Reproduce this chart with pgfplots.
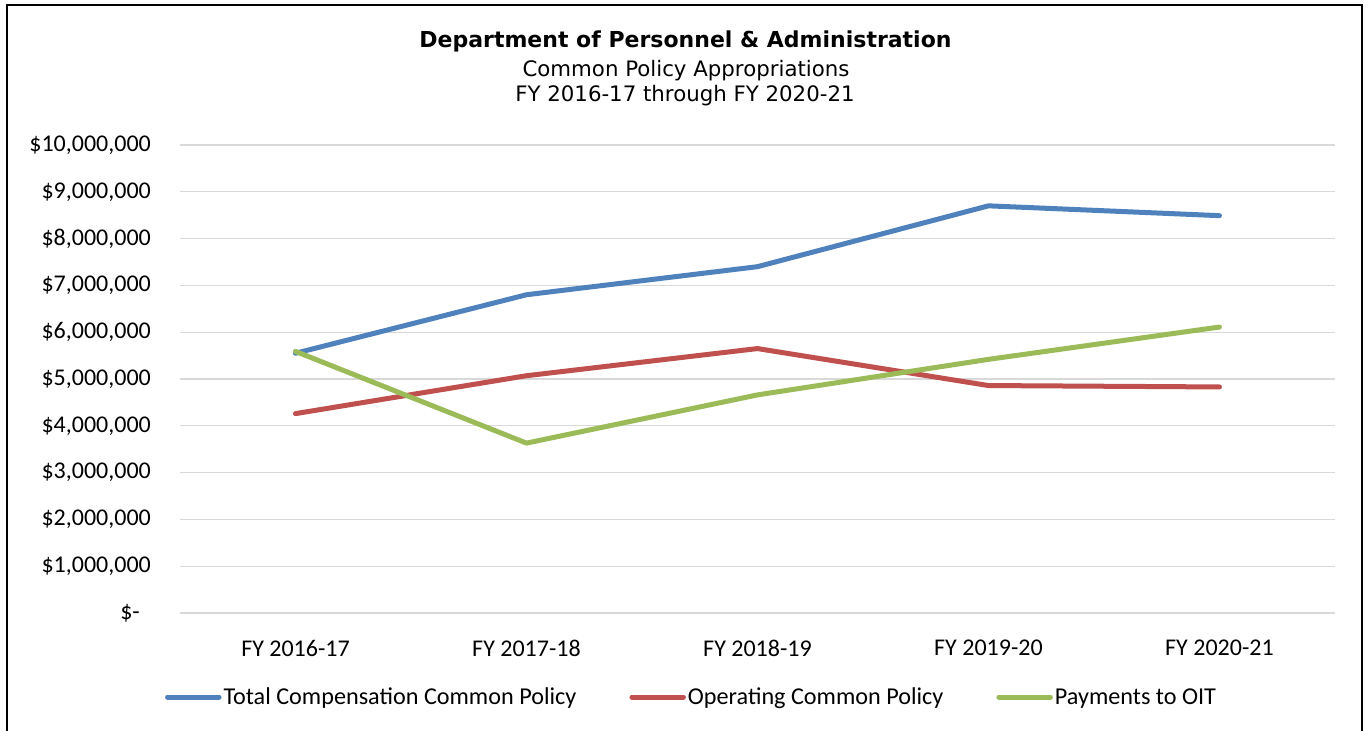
\documentclass[border=0pt]{standalone}
\usepackage{pgfplots}
\pgfplotsset{compat=1.18}
\usepackage{fontspec}
\setmainfont{Carlito}
\newfontfamily\titlefont{DejaVu Sans}
\definecolor{cblue}{HTML}{4F81BD}
\definecolor{cred}{HTML}{C0504D}
\definecolor{cgreen}{HTML}{9BBB59}
\definecolor{cgrid}{HTML}{D9D9D9}
\begin{document}
\begin{tikzpicture}[x=1pt,y=1pt]
\useasboundingbox (0,0) rectangle (1366,731);
\draw[line width=2pt] (7,726) rectangle (1362,-20);
\node[anchor=base, inner sep=0pt, font=\titlefont\bfseries\fontsize{22}{26}\selectfont] at (685.5,683) {Department of Personnel \& Administration};
\node[anchor=base, inner sep=0pt, font=\titlefont\fontsize{21.3}{25}\selectfont] at (686,654) {Common Policy Appropriations};
\node[anchor=base, inner sep=0pt, font=\titlefont\fontsize{21.3}{25}\selectfont] at (685,629) {FY 2016-17 through FY 2020-21};
\begin{axis}[
  at={(180pt,118pt)}, anchor=south west,
  scale only axis, width=1155pt, height=468pt,
  xmin=-0.5, xmax=4.5, ymin=0, ymax=10000000,
  axis line style={draw=none},
  major tick length=0pt,
  xtick={0,1,2,3,4},
  xticklabels={FY 2016-17,FY 2017-18,FY 2018-19,FY 2019-20,FY 2020-21},
  ytick={0,1000000,2000000,3000000,4000000,5000000,6000000,7000000,8000000,9000000,10000000},
  yticklabels={{\$-\rule{11pt}{0pt}},{\$1,000,000},{\$2,000,000},{\$3,000,000},{\$4,000,000},{\$5,000,000},{\$6,000,000},{\$7,000,000},{\$8,000,000},{\$9,000,000},{\$10,000,000}},
  scaled y ticks=false,
  ymajorgrids,
  major grid style={cgrid, line width=1.3pt},
  yticklabel style={anchor=east, inner sep=0pt, xshift=-29pt, font=\fontsize{24}{28}\selectfont},
  xticklabel style={anchor=north, inner sep=0pt, yshift=-27pt, font=\fontsize{24}{28}\selectfont},
  legend columns=3,
  legend style={at={(0.442,-0.1795)}, anchor=center, draw=none, fill=none,
    font=\fontsize{24.2}{28}\selectfont, inner sep=0pt,
    nodes={inner sep=0pt, anchor=west},
    column sep=2pt,
    /tikz/every even column/.append style={column sep=53pt}},
  legend image code/.code={\draw[#1, line cap=round] (2.5pt,0pt) -- (54pt,0pt);},
  every axis plot/.append style={line width=5pt, line join=round, line cap=round},
]
\addplot[cblue] coordinates {(0,5550000) (1,6800000) (2,7400000) (3,8700000) (4,8490000)};
\addlegendentry{Total Compensation Common Policy}
\addplot[cred] coordinates {(0,4260000) (1,5070000) (2,5650000) (3,4860000) (4,4830000)};
\addlegendentry{Operating Common Policy}
\addplot[cgreen] coordinates {(0,5590000) (1,3630000) (2,4660000) (3,5420000) (4,6110000)};
\addlegendentry{Payments to OIT}
\end{axis}
\end{tikzpicture}
\end{document}
